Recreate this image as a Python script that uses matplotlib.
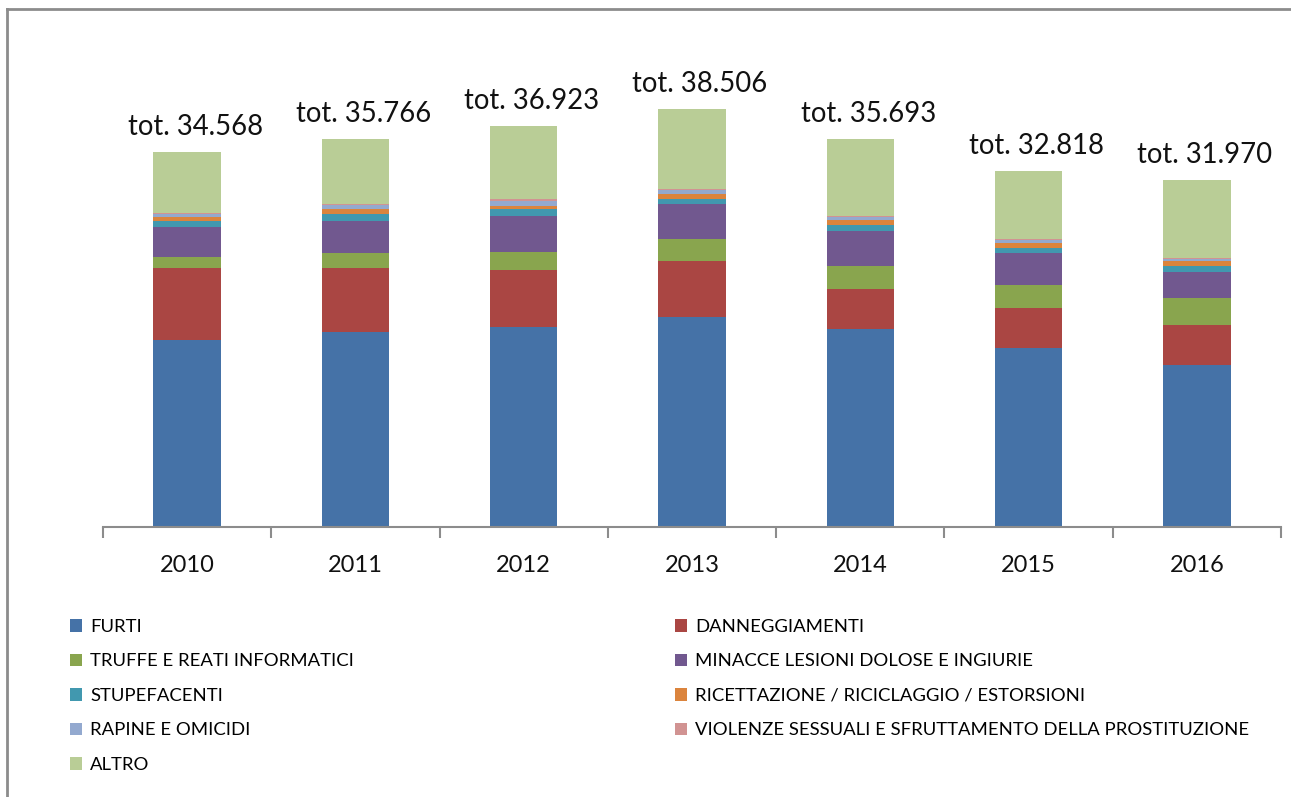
"""Stacked bars: reati denunciati per categoria, 2010-2016, with yearly totals on top."""
import matplotlib
matplotlib.use("Agg")
import matplotlib.pyplot as plt
from matplotlib.lines import Line2D
from matplotlib.patches import Patch
import numpy as np

plt.rcParams["font.family"] = ["Lato", "DejaVu Sans"]

years = ["2010", "2011", "2012", "2013", "2014", "2015", "2016"]
totals = [34568, 35766, 36923, 38506, 35693, 32818, 31970]

categories = [
    "FURTI",
    "DANNEGGIAMENTI",
    "TRUFFE E REATI INFORMATICI",
    "MINACCE LESIONI DOLOSE E INGIURIE",
    "STUPEFACENTI",
    "RICETTAZIONE / RICICLAGGIO / ESTORSIONI",
    "RAPINE E OMICIDI",
    "VIOLENZE SESSUALI E SFRUTTAMENTO DELLA PROSTITUZIONE",
    "ALTRO",
]
furti = [17225, 17932, 18372, 19292, 18244, 16496, 14950]
danneggiamenti = [6631, 5894, 5299, 5207, 3652, 3652, 3684]
truffe = [1041, 1382, 1656, 2024, 2144, 2116, 2487]
minacce = [2708, 2977, 3312, 3192, 3192, 2972, 2367]
stupefacenti = [608, 645, 616, 460, 552, 497, 580]
ricettazione = [368, 433, 340, 460, 524, 423, 433]
rapine = [276, 368, 460, 368, 240, 276, 184]
violenze = [92, 123, 120, 120, 129, 92, 92]
altro = [5619, 6012, 6748, 7383, 7016, 6294, 7193]

series = [furti, danneggiamenti, truffe, minacce, stupefacenti,
          ricettazione, rapine, violenze, altro]
colors = ["#4572A7", "#AA4643", "#89A54E", "#71588F", "#4198AF",
          "#DB843D", "#93A9CF", "#D19392", "#B9CD96"]

W, H = 1291, 797
fig = plt.figure(figsize=(W / 100, H / 100), dpi=100)
ax = fig.add_axes([103 / W, 270 / H, (1281 - 103) / W, 467 / H])

x = np.arange(len(years))
bottom = np.zeros(len(years))
for vals, c in zip(series, colors):
    ax.bar(x, vals, width=0.4, bottom=bottom, color=c, linewidth=0)
    bottom += np.array(vals)

for xi, t, top in zip(x, totals, bottom):
    label = "tot. " + f"{t:,}".replace(",", ".")
    ax.annotate(label, (xi, top), xytext=(8, 25), textcoords="offset pixels",
                ha="center", va="center", fontsize=19.8, color="#111111",
                annotation_clip=False)

ax.set_xlim(-0.5, len(years) - 0.5)
ax.set_ylim(0, 43000)
for side in ("top", "right", "left"):
    ax.spines[side].set_visible(False)
ax.spines["bottom"].set_color("#8c8c8c")
ax.spines["bottom"].set_linewidth(1.5)
ax.set_yticks([])
ax.set_xticks(x)
ax.set_xticklabels(years, fontsize=17, color="#111111")
ax.tick_params(axis="x", which="major", length=0, pad=20)
ax.set_xticks(np.arange(-0.5, len(years)), minor=True)
ax.tick_params(axis="x", which="minor", length=8, width=1.5, color="#8c8c8c")

# legend laid out row by row in two columns, as in the original
handles = [Patch(facecolor=c, edgecolor="none") for c in colors]
left = [0, 2, 4, 6, 8]
right = [1, 3, 5, 7]
kw = dict(frameon=False, fontsize=13.3, handlelength=0.65, handleheight=0.65,
          handletextpad=0.45, labelspacing=1.0, loc="upper left",
          borderaxespad=0, borderpad=0)
fig.legend([handles[i] for i in left], [categories[i] for i in left],
           bbox_to_anchor=(70 / W, 1 - 619 / H), **kw)
fig.legend([handles[i] for i in right], [categories[i] for i in right],
           bbox_to_anchor=(675 / W, 1 - 619 / H), **kw)

# chart-area border (cropped on the right and bottom in the original)
fig.add_artist(Line2D([7 / W, 7 / W], [0, 1 - 9 / H], transform=fig.transFigure,
                      color="#8c8c8c", lw=2))
fig.add_artist(Line2D([7 / W, 1], [1 - 9 / H, 1 - 9 / H], transform=fig.transFigure,
                      color="#8c8c8c", lw=2))

fig.savefig("out.png", dpi=100)
